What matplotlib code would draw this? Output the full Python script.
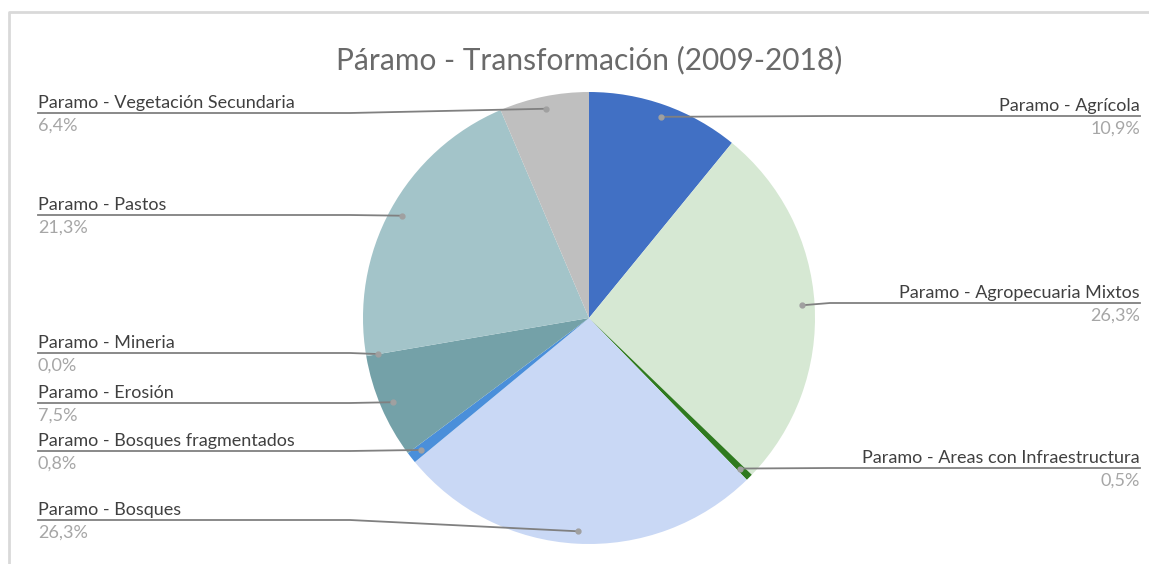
import numpy as np
import matplotlib.pyplot as plt

# datos de la grafica (porcentajes)
categorias = ['Paramo - Agrícola', 'Paramo - Agropecuaria Mixtos',
              'Paramo - Areas con Infraestructura', 'Paramo - Bosques',
              'Paramo - Bosques fragmentados', 'Paramo - Erosión',
              'Paramo - Mineria', 'Paramo - Pastos',
              'Paramo - Vegetación Secundaria']
valores = [10.9, 26.3, 0.5, 26.3, 0.8, 7.5, 0.0, 21.3, 6.4]
colores = ['#4170C4', '#D6E8D3', '#2F7A1F', '#C9D8F5', '#4A8FDA',
           '#74A1A8', '#8AAFB5', '#A3C4C9', '#BFBFBF']

# posicion vertical (pixeles desde arriba) de la linea de cada etiqueta
etiqueta_y = [116, 303, 468, 520, 451, 403, 353, 215, 113]

W, H = 1149, 564
fig = plt.figure(figsize=(W / 100, H / 100), dpi=100)
ax = fig.add_axes([0, 0, 1, 1])

cx, cy, r = 589, H - 318, 226
wedges, _ = ax.pie(valores, colors=colores, startangle=90, counterclock=False,
                   center=(cx, cy), radius=r, wedgeprops=dict(linewidth=0),
                   frame=True)
ax.set_xlim(0, W)
ax.set_ylim(0, H)
ax.set_aspect('equal')
ax.axis('off')

fuente = 'Lato'
fs = 13
gris = '#808080'
for w, nombre, v, ly in zip(wedges, categorias, valores, etiqueta_y):
    ang = np.deg2rad((w.theta1 + w.theta2) / 2)
    px = cx + 0.945 * r * np.cos(ang)
    py = cy + 0.945 * r * np.sin(ang)
    y = H - ly
    pct = f'{v:.1f}%'.replace('.', ',')
    if px < cx:
        ax.plot([38, 350, px], [y, y, py], color=gris, lw=1.3)
        ax.text(38, y + 2, nombre, ha='left', va='bottom', fontsize=fs,
                color='#404040', family=fuente)
        ax.text(38, y - 5, pct, ha='left', va='top', fontsize=fs,
                color='#A6A6A6', family=fuente)
    else:
        ax.plot([1140, 830, px], [y, y, py], color=gris, lw=1.3)
        ax.text(1140, y + 2, nombre, ha='right', va='bottom', fontsize=fs,
                color='#404040', family=fuente)
        ax.text(1140, y - 5, pct, ha='right', va='top', fontsize=fs,
                color='#A6A6A6', family=fuente)
    ax.plot(px, py, 'o', color='#A0A0A0', ms=3.5)

ax.text(589, H - 60, 'Páramo - Transformación (2009-2018)', ha='center',
        va='center', fontsize=21.5, color='#6A6A6A', family=fuente)

# marco gris claro
ax.plot([9, 9, W], [0, H - 12, H - 12], color='#D9D9D9', lw=2)

plt.savefig('out.png', dpi=100)
